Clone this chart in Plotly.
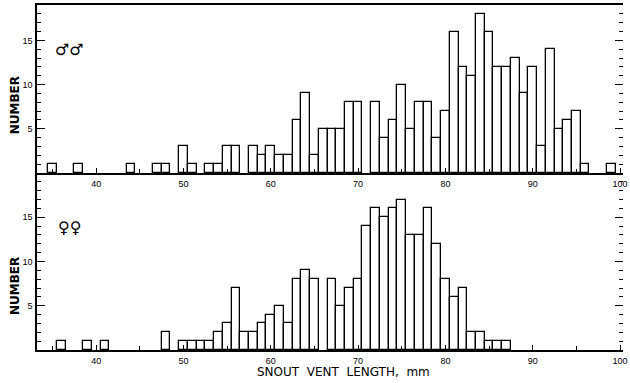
import plotly.graph_objects as go

# Males (top panel): snout-vent length bins (mm) and counts
male_lengths = [35, 38, 44, 47, 48, 50, 51, 53, 54, 55, 56, 58, 59, 60, 61, 62, 63, 64, 65,
                66, 67, 68, 69, 70, 72, 73, 74, 75, 76, 77, 78, 79, 80, 81, 82, 83, 84, 85,
                86, 87, 88, 89, 90, 91, 92, 93, 94, 95, 96, 99]
male_counts = [1, 1, 1, 1, 1, 3, 1, 1, 1, 3, 3, 3, 2, 3, 2, 2, 6, 9, 2,
               5, 5, 5, 8, 8, 8, 4, 6, 10, 5, 8, 8, 4, 7, 16, 12, 11, 18, 16,
               12, 12, 13, 9, 12, 3, 14, 5, 6, 7, 1, 1]

# Females (bottom panel)
female_lengths = [36, 39, 41, 48, 50, 51, 52, 53, 54, 55, 56, 57, 58, 59, 60, 61, 62, 63, 64,
                  65, 67, 68, 69, 70, 71, 72, 73, 74, 75, 76, 77, 78, 79, 80, 81, 82, 83, 84,
                  85, 86, 87]
female_counts = [1, 1, 1, 2, 1, 1, 1, 1, 2, 3, 7, 2, 2, 3, 4, 5, 3, 8, 9,
                 8, 8, 5, 7, 8, 14, 16, 15, 16, 17, 13, 13, 16, 12, 8, 6, 7, 2, 2,
                 1, 1, 1]

x_ticks = [40, 50, 60, 70, 80, 90, 100]
x_tick_labels = ["40", "50", "60", "70", "80", "90", "100"]
y_ticks = [5, 10, 15]
y_tick_labels = ["5", "10", "15"]

FONT = "Liberation Sans"
TITLE_FONT = "DejaVu Sans"
XR = [33.22, 100.34]
SPLIT = 0.513

bar_style = dict(marker=dict(color="white", line=dict(color="black", width=1.3)),
                 width=1.0, showlegend=False, hoverinfo="skip")

fig = go.Figure()
fig.add_trace(go.Bar(x=male_lengths, y=male_counts, xaxis="x", yaxis="y", **bar_style))
fig.add_trace(go.Bar(x=female_lengths, y=female_counts, xaxis="x2", yaxis="y2", **bar_style))
# invisible traces to carry the right-hand tick axes
fig.add_trace(go.Scatter(x=[50], y=[0], mode="markers", marker=dict(opacity=0),
                         xaxis="x", yaxis="y3", showlegend=False, hoverinfo="skip"))
fig.add_trace(go.Scatter(x=[50], y=[0], mode="markers", marker=dict(opacity=0),
                         xaxis="x2", yaxis="y4", showlegend=False, hoverinfo="skip"))

tickfont = dict(family=FONT, size=9, color="black")

def xaxis(anchor, mirror=False):
    return dict(domain=[0, 1], anchor=anchor, range=XR, tickvals=x_ticks, ticktext=x_tick_labels,
                ticks="inside", ticklen=5, tickwidth=1, tickcolor="black",
                minor=dict(dtick=5, tick0=0, ticks="inside", ticklen=4, tickcolor="black"),
                showline=True, linewidth=1.6, linecolor="black", mirror=mirror,
                showgrid=False, zeroline=False, tickfont=tickfont, ticklabelstandoff=1,
                ticklabeloverflow="allow")

def yaxis(domain, rng, anchor, side="left", overlay=None):
    d = dict(domain=domain, range=rng, anchor=anchor, side=side,
             tickvals=y_ticks, ticktext=y_tick_labels,
             ticks="inside", ticklen=8, tickwidth=1, tickcolor="black",
             minor=dict(dtick=1, tick0=0, ticks="inside", ticklen=4, tickcolor="black"),
             showgrid=False, zeroline=False, tickfont=tickfont, ticklabelstandoff=1)
    if overlay:
        d.update(overlaying=overlay, showline=False, showticklabels=False)
    else:
        d.update(showline=True, linewidth=1.6, linecolor="black")
    return d

title_font = dict(family=TITLE_FONT, size=12, color="black")
symbol_font = dict(family="DejaVu Sans", size=16, color="black")

fig.update_layout(
    width=630, height=383,
    margin=dict(l=37, r=2, t=5, b=33),
    paper_bgcolor="white", plot_bgcolor="white",
    bargap=0,
    xaxis=xaxis("y", mirror=True),
    yaxis=yaxis([SPLIT, 1], [0, 19], "x"),
    xaxis2=xaxis("y2"),
    yaxis2=yaxis([0, SPLIT], [0, 20], "x2"),
    yaxis3=yaxis([SPLIT, 1], [0, 19], "x", side="right", overlay="y"),
    yaxis4=yaxis([0, SPLIT], [0, 20], "x2", side="right", overlay="y2"),
    annotations=[
        dict(text="<b>NUMBER</b>", xref="paper", yref="paper", x=-0.0372, y=0.710,
             xanchor="center", yanchor="middle", textangle=-90, showarrow=False, font=title_font),
        dict(text="<b>NUMBER</b>", xref="paper", yref="paper", x=-0.0372, y=0.186,
             xanchor="center", yanchor="middle", textangle=-90, showarrow=False, font=title_font),
        dict(text="SNOUT  VENT  LENGTH,  mm", xref="paper", yref="paper", x=0.523, y=-0.064,
             xanchor="center", yanchor="middle", showarrow=False, font=title_font),
        dict(text="<b>♂♂</b>", xref="paper", yref="paper", x=0.056, y=0.87, xanchor="center",
             yanchor="middle", showarrow=False, font=symbol_font),
        dict(text="<b>♀♀</b>", xref="paper", yref="paper", x=0.056, y=0.354, xanchor="center",
             yanchor="middle", showarrow=False, font=symbol_font),
    ],
)

fig.write_html("out.html")
